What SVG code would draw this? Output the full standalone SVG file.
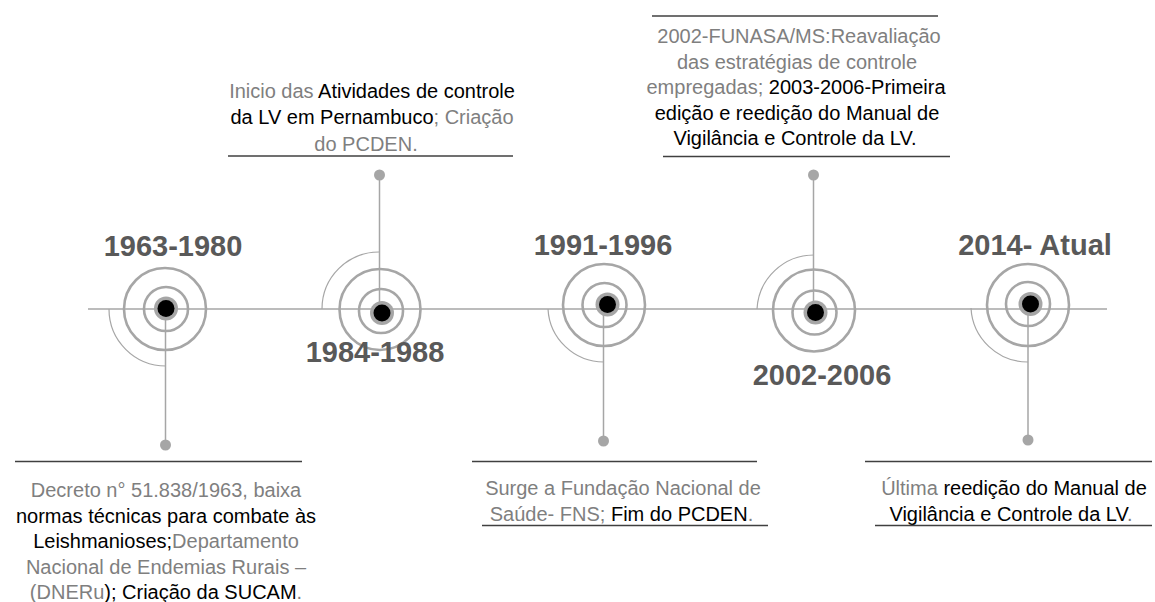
<svg xmlns="http://www.w3.org/2000/svg" width="1155" height="602" viewBox="0 0 1155 602">
<style>
.axis{stroke:#a6a6a6;stroke-width:1.6;fill:none}
.conn{stroke:#a6a6a6;stroke-width:1.5;fill:none}
.arc{stroke:#a6a6a6;stroke-width:1.2;fill:none}
.ring{stroke:#a6a6a6;stroke-width:2.6;fill:none}
.hub{fill:#a6a6a6}
.core{fill:#000}
.pin{fill:#a6a6a6}
.rule{stroke:#404040;stroke-width:1.5}
.year{font-family:"Liberation Sans",Arial,sans-serif;font-weight:bold;font-size:29px;fill:#595959;text-anchor:middle}
.desc{font-family:"Liberation Sans",Arial,sans-serif;font-size:20px;fill:#000;text-anchor:middle}
.g{fill:#7f7f7f}
</style>
<rect width="1155" height="602" fill="#fff"/>
<g id="connectors">
<path class="axis" d="M88,309 H1107"/>
<path class="conn" d="M165.5,309 V445"/>
<path class="conn" d="M379.5,309 V175"/>
<path class="conn" d="M603.5,309 V441"/>
<path class="conn" d="M813.5,309 V175"/>
<path class="conn" d="M1028,309 V440"/>
<circle class="pin" cx="165.5" cy="445" r="5.5"/>
<circle class="pin" cx="379.5" cy="175" r="5.5"/>
<circle class="pin" cx="603.5" cy="441" r="5.5"/>
<circle class="pin" cx="813.5" cy="175" r="5.5"/>
<circle class="pin" cx="1028" cy="440" r="5.5"/>
</g>
<g id="node-1963">
<path class="arc" d="M109,309 A57,57 0 0 0 166,366"/>
<circle class="ring" cx="165" cy="309" r="41"/>
<circle class="ring" cx="166" cy="309" r="22"/>
<circle class="hub" cx="166" cy="308.5" r="12"/>
<circle class="core" cx="166" cy="308.5" r="8.5"/>
<text class="year" x="173" y="256">1963-1980</text>
</g>
<g id="node-1984">
<path class="arc" d="M322,309 A57,57 0 0 1 379,252"/>
<circle class="ring" cx="380" cy="309.5" r="40.5"/>
<circle class="ring" cx="381" cy="311" r="22"/>
<circle class="hub" cx="382" cy="313" r="12"/>
<circle class="core" cx="382" cy="313" r="8.5"/>
<text class="year" x="375" y="362">1984-1988</text>
</g>
<g id="node-1991">
<path class="arc" d="M548,309 A56,56 0 0 0 604,362"/>
<circle class="ring" cx="604" cy="305" r="41"/>
<circle class="ring" cx="604.5" cy="305" r="22"/>
<circle class="hub" cx="607.5" cy="304.5" r="12"/>
<circle class="core" cx="607.5" cy="304.5" r="8.5"/>
<text class="year" x="603" y="255">1991-1996</text>
</g>
<g id="node-2002">
<path class="arc" d="M757,309 A57,57 0 0 1 814,255"/>
<circle class="ring" cx="814" cy="310.5" r="41"/>
<circle class="ring" cx="814.5" cy="312.5" r="22"/>
<circle class="hub" cx="815.5" cy="312.5" r="12"/>
<circle class="core" cx="815.5" cy="312.5" r="8.5"/>
<text class="year" x="822" y="385">2002-2006</text>
</g>
<g id="node-2014">
<path class="arc" d="M971,308 A57,57 0 0 0 1028,362"/>
<circle class="ring" cx="1028" cy="305" r="41"/>
<circle class="ring" cx="1028" cy="304" r="22"/>
<circle class="hub" cx="1030.5" cy="304" r="12"/>
<circle class="core" cx="1030.5" cy="304" r="8.5"/>
<text class="year" x="1035" y="255">2014- Atual</text>
</g>
<g id="text-1963">
<line class="rule" x1="15" y1="461.5" x2="302" y2="461.5"/>
<text class="desc" x="166" y="497"><tspan class="g">Decreto n° 51.838/1963, baixa</tspan></text>
<text class="desc" x="166" y="522.5">normas técnicas para combate às</text>
<text class="desc" x="166" y="548">Leishmanioses;<tspan class="g">Departamento</tspan></text>
<text class="desc" x="166" y="573.5"><tspan class="g">Nacional de Endemias Rurais –</tspan></text>
<text class="desc" x="166" y="599"><tspan class="g">(DNERu</tspan>); Criação da SUCAM<tspan class="g">.</tspan></text>
</g>
<g id="text-1984">
<text class="desc" x="372" y="97.5"><tspan class="g">Inicio das </tspan>Atividades de controle</text>
<text class="desc" x="372" y="124">da LV em Pernambuco<tspan class="g">; Criação</tspan></text>
<text class="desc" x="366" y="150.5"><tspan class="g">do PCDEN.</tspan></text>
<line class="rule" x1="228" y1="156" x2="513" y2="156"/>
</g>
<g id="text-2002">
<line class="rule" x1="652" y1="16" x2="938" y2="16"/>
<text class="desc" x="799" y="43"><tspan class="g">2002-FUNASA/MS:Reavaliação</tspan></text>
<text class="desc" x="797" y="68.5"><tspan class="g">das estratégias de controle</tspan></text>
<text class="desc" x="796" y="94"><tspan class="g">empregadas; </tspan>2003-2006-Primeira</text>
<text class="desc" x="797" y="119.5">edição e reedição do Manual de</text>
<text class="desc" x="795" y="145">Vigilância e Controle da LV.</text>
<line class="rule" x1="663" y1="156.5" x2="950" y2="156.5"/>
</g>
<g id="text-1991">
<line class="rule" x1="472" y1="461.5" x2="757" y2="461.5"/>
<text class="desc" x="623" y="495"><tspan class="g">Surge a Fundação Nacional de</tspan></text>
<text class="desc" x="621.5" y="520.5"><tspan class="g">Saúde- FNS; </tspan>Fim do PCDEN<tspan class="g">.</tspan></text>
<line class="rule" x1="482" y1="525.5" x2="768" y2="525.5"/>
</g>
<g id="text-2014">
<line class="rule" x1="865" y1="461.5" x2="1152" y2="461.5"/>
<text class="desc" x="1014" y="495"><tspan class="g">Última </tspan>reedição do Manual de</text>
<text class="desc" x="1011" y="520.5">Vigilância e Controle da LV<tspan class="g">.</tspan></text>
<line class="rule" x1="875" y1="525.5" x2="1152" y2="525.5"/>
</g>
</svg>
